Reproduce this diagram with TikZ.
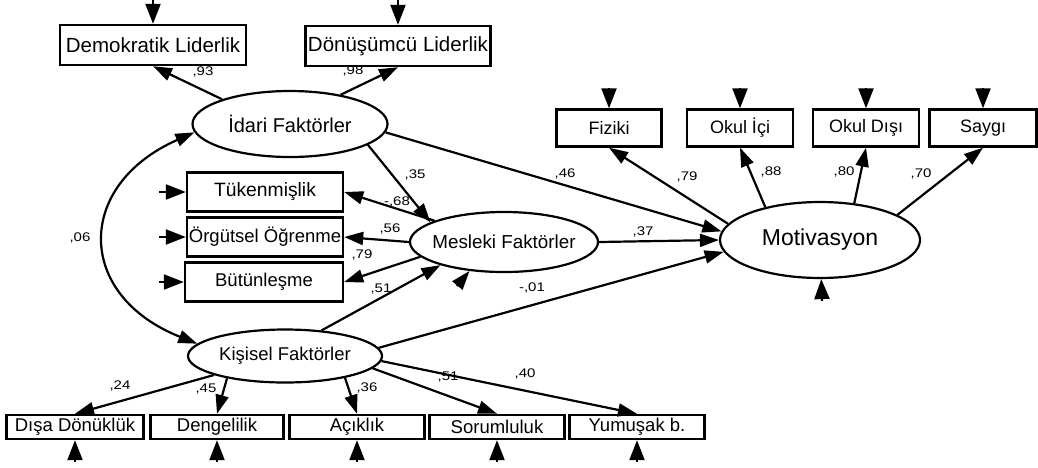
\documentclass[tikz,border=0pt]{standalone}
\usepackage{fontspec}
\setmainfont{Liberation Sans}
\newfontfamily\coeffont[FakeStretch=1.2]{Liberation Sans}
\usetikzlibrary{shapes.geometric,arrows.meta}

\tikzset{
  obsbox/.style={draw, line width=2.4pt, inner sep=0pt, minimum height=39pt},
  smallbox/.style={obsbox, minimum height=24pt, font=\fontsize{18.5}{20}\selectfont},
  latent/.style={draw, ellipse, line width=2.2pt, inner sep=0pt},
  loading/.style={line width=2.2pt, -{Triangle[length=19pt,width=13pt]}},
  errarrow/.style={line width=2.2pt, -{Triangle[length=20pt,width=15pt]}},
  covar/.style={line width=2.2pt, {Triangle[length=19pt,width=13pt]}-{Triangle[length=19pt,width=13pt]}},
  coef/.style={font=\coeffont\fontsize{12.5}{14}\selectfont, inner sep=0pt},
}

\begin{document}
\begin{tikzpicture}[x=1pt,y=-1pt]
\useasboundingbox (0,0) rectangle (1038,467);

% latent variables
\node[latent, minimum width=195pt, minimum height=66pt,
  label={[font=\fontsize{20}{22}\selectfont]center:İdari Faktörler}] (ida) at (290,124) {};
\node[latent, minimum width=188pt, minimum height=60pt,
  label={[font=\fontsize{18.8}{20}\selectfont]center:Mesleki Faktörler}] (mes) at (504,242) {};
\node[latent, minimum width=194pt, minimum height=53pt,
  label={[font=\fontsize{18.5}{20}\selectfont]center:Kişisel Faktörler}] (kis) at (285,356) {};
\node[latent, minimum width=200pt, minimum height=76pt,
  label={[font=\fontsize{23}{25}\selectfont]center:Motivasyon}] (mot) at (820,240) {};

% indicators of İdari Faktörler
\node[obsbox, minimum width=186pt, minimum height=40pt, font=\fontsize{20.5}{22}\selectfont] (dem) at (153,45) {Demokratik Liderlik};
\node[obsbox, minimum width=185pt, minimum height=40pt, font=\fontsize{20.5}{22}\selectfont] (don) at (398,46) {Dönüşümcü Liderlik};

% indicators of Mesleki Faktörler
\node[obsbox, minimum width=156pt, font=\fontsize{19.3}{21}\selectfont] (tuk) at (265,192) {Tükenmişlik};
\node[obsbox, minimum width=156pt, font=\fontsize{18.5}{20}\selectfont] (org) at (265,237) {Örgütsel Öğrenme};
\node[obsbox, minimum width=158pt, font=\fontsize{18.5}{20}\selectfont] (but) at (264,282) {Bütünleşme};

% indicators of Motivasyon
\node[obsbox, minimum width=105pt, minimum height=37pt, font=\fontsize{18}{20}\selectfont] (fiz) at (609,128) {Fiziki};
\node[obsbox, minimum width=106pt, minimum height=37pt, font=\fontsize{18}{20}\selectfont] (oki) at (740,128) {Okul İçi};
\node[obsbox, minimum width=106pt, minimum height=37pt, font=\fontsize{18}{20}\selectfont] (okd) at (866,128) {Okul Dışı};
\node[obsbox, minimum width=107pt, minimum height=37pt, font=\fontsize{18}{20}\selectfont] (say) at (983,128) {Saygı};

% indicators of Kişisel Faktörler
\node[smallbox, minimum width=137pt] (dis) at (75,427) {Dışa Dönüklük};
\node[smallbox, minimum width=133pt] (den) at (217,427) {Dengelilik};
\node[smallbox, minimum width=135pt] (ack) at (357,427) {Açıklık};
\node[smallbox, minimum width=135pt] (sor) at (497,427) {Sorumluluk};
\node[smallbox, minimum width=135pt] (yum) at (637,427) {Yumuşak b.};

% error terms
\coordinate (e-dem) at (153,0);
\coordinate (e-don) at (398,0);
\coordinate (e-fiz) at (609,88);
\coordinate (e-oki) at (740,88);
\coordinate (e-okd) at (866,88);
\coordinate (e-say) at (983,88);
\coordinate (e-tuk) at (159,192);
\coordinate (e-org) at (159,237);
\coordinate (e-but) at (159,282);
\coordinate (e-dis) at (75,462);
\coordinate (e-den) at (217,462);
\coordinate (e-ack) at (357,462);
\coordinate (e-sor) at (497,462);
\coordinate (e-yum) at (637,462);
\coordinate (e-mot) at (822,301);
\coordinate (e-mes) at (457,286);

\foreach \t in {dem,don,fiz,oki,okd,say,tuk,org,but,dis,den,ack,sor,yum,mot}
  \draw[errarrow] (e-\t) -- (\t);
\draw[loading] (e-mes) -- (mes.-140);

% loadings
\draw[loading] (ida.160) -- (dem.south);
\draw[loading] (ida.30) -- (don.south);
\draw[loading] (mes.163) -- (tuk.east);
\draw[loading] (mes.180) -- (org.east);
\draw[loading] (mes.190) -- (but.east);
\draw[loading] (mot.170) -- (fiz.south);
\draw[loading] (mot.149) -- (oki.south);
\draw[loading] (mot.47) -- (okd.south);
\draw[loading] (mot.18) -- (say.south);
\draw[loading] (kis.195) -- (dis.north);
\draw[loading] (kis.201) -- (den.north);
\draw[loading] (kis.-20) -- (ack.north);
\draw[loading] (kis.-8) -- (sor.north);
\draw[loading] (kis.-3) -- (yum.north);

% structural paths
\draw[loading] (ida.-15) -- (mes.165);
\draw[loading] (ida.-5) -- (mot.175);
\draw[loading] (mes.0) -- (mot.180);
\draw[loading] (kis.5) -- (mot.187);
\draw[loading] (kis.35) -- (mes.200);

% covariance
\draw[covar] (ida.185) .. controls (75,185) and (75,295) .. (kis.172);

% coefficients
\node[coef] (c-dem) at (203,72) {,93};
\node[coef] (c-don) at (353,71) {,98};
\node[coef] (c-35) at (415,175) {,35};
\node[coef] (c-tuk) at (397,202) {-,68};
\node[coef] (c-org) at (390,229) {,56};
\node[coef] (c-but) at (362,255) {,79};
\node[coef] (c-51m) at (381,289) {,51};
\node[coef] (c-06) at (80,238) {,06};
\node[coef] (c-46) at (565,174) {,46};
\node[coef] (c-37) at (643,232) {,37};
\node[coef] (c-01) at (532,288) {-,01};
\node[coef] (c-fiz) at (687,177) {,79};
\node[coef] (c-oki) at (771,172) {,88};
\node[coef] (c-okd) at (844,172) {,80};
\node[coef] (c-say) at (921,174) {,70};
\node[coef] (c-dis) at (120,386) {,24};
\node[coef] (c-den) at (206,389) {,45};
\node[coef] (c-ack) at (367,388) {,36};
\node[coef] (c-sor) at (448,377) {,51};
\node[coef] (c-yum) at (525,374) {,40};
\end{tikzpicture}
\end{document}
